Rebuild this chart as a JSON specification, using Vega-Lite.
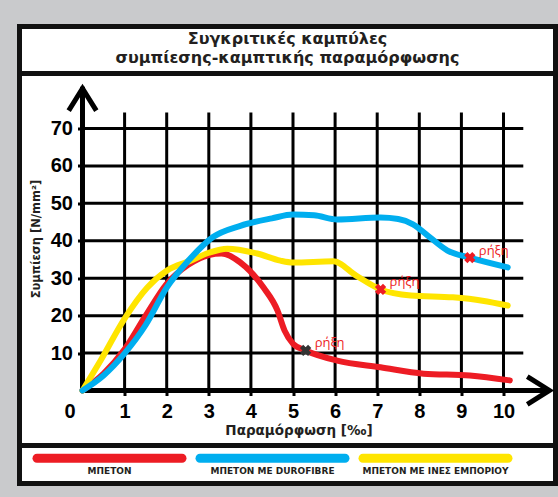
{
  "$schema": "https://vega.github.io/schema/vega-lite/v6.json",
  "background": "#c9cacc",
  "padding": {"left": 16.5, "top": 23.5, "right": 0, "bottom": 11.5},
  "spacing": 0,
  "bounds": "flush",
  "config": {"view": {"stroke": "#111111", "strokeWidth": 5, "fill": "white"}, "font": "DejaVu Sans"},
  "datasets": {
    "title": [{"line": "1", "text": "Συγκριτικές καμπύλες"}, {"line": "2", "text": "συμπίεσης-καμπτικής παραμόρφωσης"}],
    "gridx": [{"v": 1}, {"v": 2}, {"v": 3}, {"v": 4}, {"v": 5}, {"v": 6}, {"v": 7}, {"v": 8}, {"v": 9}, {"v": 10}],
    "gridy": [{"v": 10}, {"v": 20}, {"v": 30}, {"v": 40}, {"v": 50}, {"v": 60}, {"v": 70}],
    "curves": [
      {"series": "ΜΠΕΤΟΝ", "x": 0, "y": 0},
      {"series": "ΜΠΕΤΟΝ", "x": 0.5, "y": 4.5},
      {"series": "ΜΠΕΤΟΝ", "x": 1.0, "y": 11},
      {"series": "ΜΠΕΤΟΝ", "x": 1.5, "y": 20},
      {"series": "ΜΠΕΤΟΝ", "x": 2.0, "y": 28.5},
      {"series": "ΜΠΕΤΟΝ", "x": 2.5, "y": 33.5},
      {"series": "ΜΠΕΤΟΝ", "x": 3.0, "y": 36.2},
      {"series": "ΜΠΕΤΟΝ", "x": 3.3, "y": 36.6},
      {"series": "ΜΠΕΤΟΝ", "x": 3.75, "y": 34.2},
      {"series": "ΜΠΕΤΟΝ", "x": 4.3, "y": 27.5},
      {"series": "ΜΠΕΤΟΝ", "x": 4.63, "y": 21.4},
      {"series": "ΜΠΕΤΟΝ", "x": 4.8, "y": 16},
      {"series": "ΜΠΕΤΟΝ", "x": 5.0, "y": 12.5},
      {"series": "ΜΠΕΤΟΝ", "x": 5.3, "y": 10.7},
      {"series": "ΜΠΕΤΟΝ", "x": 6.05, "y": 8},
      {"series": "ΜΠΕΤΟΝ", "x": 7.08, "y": 6.2},
      {"series": "ΜΠΕΤΟΝ", "x": 8.1, "y": 4.5},
      {"series": "ΜΠΕΤΟΝ", "x": 9.2, "y": 4.0},
      {"series": "ΜΠΕΤΟΝ", "x": 10.15, "y": 2.7},
      {"series": "ΜΠΕΤΟΝ ΜΕ ΙΝΕΣ ΕΜΠΟΡΙΟΥ", "x": 0, "y": 0},
      {"series": "ΜΠΕΤΟΝ ΜΕ ΙΝΕΣ ΕΜΠΟΡΙΟΥ", "x": 0.43, "y": 8},
      {"series": "ΜΠΕΤΟΝ ΜΕ ΙΝΕΣ ΕΜΠΟΡΙΟΥ", "x": 1.0, "y": 19.2},
      {"series": "ΜΠΕΤΟΝ ΜΕ ΙΝΕΣ ΕΜΠΟΡΙΟΥ", "x": 1.54, "y": 27.5},
      {"series": "ΜΠΕΤΟΝ ΜΕ ΙΝΕΣ ΕΜΠΟΡΙΟΥ", "x": 2.0, "y": 32},
      {"series": "ΜΠΕΤΟΝ ΜΕ ΙΝΕΣ ΕΜΠΟΡΙΟΥ", "x": 2.57, "y": 34.7},
      {"series": "ΜΠΕΤΟΝ ΜΕ ΙΝΕΣ ΕΜΠΟΡΙΟΥ", "x": 3.0, "y": 36.8},
      {"series": "ΜΠΕΤΟΝ ΜΕ ΙΝΕΣ ΕΜΠΟΡΙΟΥ", "x": 3.44, "y": 37.9},
      {"series": "ΜΠΕΤΟΝ ΜΕ ΙΝΕΣ ΕΜΠΟΡΙΟΥ", "x": 4.15, "y": 36.6},
      {"series": "ΜΠΕΤΟΝ ΜΕ ΙΝΕΣ ΕΜΠΟΡΙΟΥ", "x": 4.7, "y": 34.7},
      {"series": "ΜΠΕΤΟΝ ΜΕ ΙΝΕΣ ΕΜΠΟΡΙΟΥ", "x": 5.0, "y": 34.2},
      {"series": "ΜΠΕΤΟΝ ΜΕ ΙΝΕΣ ΕΜΠΟΡΙΟΥ", "x": 5.96, "y": 34.5},
      {"series": "ΜΠΕΤΟΝ ΜΕ ΙΝΕΣ ΕΜΠΟΡΙΟΥ", "x": 6.5, "y": 30.7},
      {"series": "ΜΠΕΤΟΝ ΜΕ ΙΝΕΣ ΕΜΠΟΡΙΟΥ", "x": 7.08, "y": 27},
      {"series": "ΜΠΕΤΟΝ ΜΕ ΙΝΕΣ ΕΜΠΟΡΙΟΥ", "x": 7.8, "y": 25.4},
      {"series": "ΜΠΕΤΟΝ ΜΕ ΙΝΕΣ ΕΜΠΟΡΙΟΥ", "x": 8.8, "y": 24.9},
      {"series": "ΜΠΕΤΟΝ ΜΕ ΙΝΕΣ ΕΜΠΟΡΙΟΥ", "x": 9.5, "y": 24},
      {"series": "ΜΠΕΤΟΝ ΜΕ ΙΝΕΣ ΕΜΠΟΡΙΟΥ", "x": 10.1, "y": 22.7},
      {"series": "ΜΠΕΤΟΝ ΜΕ DUROFIBRE", "x": 0, "y": 0},
      {"series": "ΜΠΕΤΟΝ ΜΕ DUROFIBRE", "x": 0.5, "y": 4},
      {"series": "ΜΠΕΤΟΝ ΜΕ DUROFIBRE", "x": 1.0, "y": 9.9},
      {"series": "ΜΠΕΤΟΝ ΜΕ DUROFIBRE", "x": 1.5, "y": 17.5},
      {"series": "ΜΠΕΤΟΝ ΜΕ DUROFIBRE", "x": 2.0, "y": 27.5},
      {"series": "ΜΠΕΤΟΝ ΜΕ DUROFIBRE", "x": 2.5, "y": 34.5},
      {"series": "ΜΠΕΤΟΝ ΜΕ DUROFIBRE", "x": 3.1, "y": 41},
      {"series": "ΜΠΕΤΟΝ ΜΕ DUROFIBRE", "x": 3.75, "y": 44},
      {"series": "ΜΠΕΤΟΝ ΜΕ DUROFIBRE", "x": 4.5, "y": 46},
      {"series": "ΜΠΕΤΟΝ ΜΕ DUROFIBRE", "x": 5.0, "y": 47},
      {"series": "ΜΠΕΤΟΝ ΜΕ DUROFIBRE", "x": 5.5, "y": 46.8},
      {"series": "ΜΠΕΤΟΝ ΜΕ DUROFIBRE", "x": 6.05, "y": 45.7},
      {"series": "ΜΠΕΤΟΝ ΜΕ DUROFIBRE", "x": 7.08, "y": 46.2},
      {"series": "ΜΠΕΤΟΝ ΜΕ DUROFIBRE", "x": 7.5, "y": 45.8},
      {"series": "ΜΠΕΤΟΝ ΜΕ DUROFIBRE", "x": 7.85, "y": 44.4},
      {"series": "ΜΠΕΤΟΝ ΜΕ DUROFIBRE", "x": 8.2, "y": 41.4},
      {"series": "ΜΠΕΤΟΝ ΜΕ DUROFIBRE", "x": 8.67, "y": 37.4},
      {"series": "ΜΠΕΤΟΝ ΜΕ DUROFIBRE", "x": 9.2, "y": 35.5},
      {"series": "ΜΠΕΤΟΝ ΜΕ DUROFIBRE", "x": 10.1, "y": 32.9}
    ],
    "breaks": [
      {"series": "ΜΠΕΤΟΝ", "x": 5.3, "y": 10.7, "label": "ρήξη"},
      {"series": "ΜΠΕΤΟΝ ΜΕ ΙΝΕΣ ΕΜΠΟΡΙΟΥ", "x": 7.08, "y": 27, "label": "ρήξη"},
      {"series": "ΜΠΕΤΟΝ ΜΕ DUROFIBRE", "x": 9.2, "y": 35.5, "label": "ρήξη"}
    ],
    "legend": [
      {"series": "ΜΠΕΤΟΝ"},
      {"series": "ΜΠΕΤΟΝ ΜΕ DUROFIBRE"},
      {"series": "ΜΠΕΤΟΝ ΜΕ ΙΝΕΣ ΕΜΠΟΡΙΟΥ"}
    ]
  },
  "vconcat": [
    {
      "width": 536,
      "height": 47,
      "data": {"name": "title"},
      "mark": {"type": "text", "font": "DejaVu Sans", "fontWeight": "bold", "fontSize": 16, "color": "#231f20", "baseline": "middle", "dy": -1.5},
      "encoding": {
        "y": {"field": "line", "type": "nominal", "scale": {"type": "point", "padding": 0.737}, "axis": null},
        "text": {"field": "text"}
      }
    },
    {
      "width": 536,
      "height": 372,
      "layer": [
        {
          "data": {"name": "gridx"},
          "mark": {"type": "rule", "strokeWidth": 3, "color": "black"},
          "encoding": {
            "x": {"field": "v", "type": "quantitative",
              "scale": {"domain": [-1.4964, 11.235], "nice": false, "zero": false},
              "axis": {"values": [0, 1, 2, 3, 4, 5, 6, 7, 8, 9, 10], "title": "Παραμόρφωση [‰]", "offset": -55, "domain": false, "grid": false,
                "tickColor": "black", "tickWidth": 3, "tickSize": 5,
                "tickOpacity": {"condition": {"test": "datum.value === 0", "value": 0}, "value": 1},
                "labelFont": "Liberation Sans", "labelFontSize": 20, "labelFontWeight": "bold", "labelColor": "black", "labelPadding": 6,
                "labelOffset": {"condition": {"test": "datum.value === 0", "value": -13}, "value": 0},
                "labelFlush": false, "labelOverlap": false,
                "titleFont": "DejaVu Sans", "titleFontSize": 13.5, "titleFontWeight": "bold", "titleColor": "#231f20",
                "titleX": 279, "titleY": 40, "titleBaseline": "middle"}},
            "y": {"datum": 0, "type": "quantitative",
              "scale": {"domain": [-14.7, 84.7], "nice": false, "zero": false},
              "axis": {"values": [10, 20, 30, 40, 50, 60, 70], "title": "Συμπίεση [N/mm²]", "offset": -63, "domain": false, "grid": false,
                "tickColor": "black", "tickWidth": 3, "tickSize": 5,
                "labelFont": "Liberation Sans", "labelFontSize": 20, "labelFontWeight": "bold", "labelColor": "black", "labelPadding": 5,
                "titleFont": "DejaVu Sans", "titleFontSize": 11.5, "titleFontWeight": "bold", "titleColor": "#231f20",
                "titleX": -46, "titleY": 165, "titleBaseline": "middle", "titleAngle": -90}},
            "y2": {"datum": 74.3}
          }
        },
        {
          "data": {"name": "gridy"},
          "mark": {"type": "rule", "strokeWidth": 3, "color": "black"},
          "encoding": {
            "y": {"field": "v", "type": "quantitative"},
            "x": {"datum": 0, "type": "quantitative"},
            "x2": {"datum": 10.47}
          }
        },
        {
          "data": {"values": [{}]},
          "mark": {"type": "rule", "strokeWidth": 5, "color": "black", "strokeCap": "square"},
          "encoding": {
            "x": {"datum": 0, "type": "quantitative"},
            "y": {"datum": 0, "type": "quantitative"},
            "y2": {"datum": 80.5}
          }
        },
        {
          "data": {"values": [{}]},
          "mark": {"type": "rule", "strokeWidth": 5, "color": "black", "strokeCap": "square"},
          "encoding": {
            "y": {"datum": 0, "type": "quantitative"},
            "x": {"datum": 0, "type": "quantitative"},
            "x2": {"datum": 11.0}
          }
        },
        {
          "data": {"values": [{}]},
          "mark": {"type": "point", "shape": "M-1,1.6L0,0L1,1.6", "filled": false, "stroke": "black", "strokeWidth": 5, "size": 625, "opacity": 1, "strokeCap": "square"},
          "encoding": {
            "x": {"datum": 0, "type": "quantitative"},
            "y": {"datum": 80.7, "type": "quantitative"}
          }
        },
        {
          "data": {"values": [{}]},
          "mark": {"type": "point", "shape": "M-1.6,-1L0,0L-1.6,1", "filled": false, "stroke": "black", "strokeWidth": 5, "size": 625, "opacity": 1, "strokeCap": "square"},
          "encoding": {
            "x": {"datum": 11.09, "type": "quantitative"},
            "y": {"datum": 0, "type": "quantitative"}
          }
        },
        {
          "data": {"name": "curves"},
          "transform": [{"filter": "datum.series === 'ΜΠΕΤΟΝ'"}],
          "mark": {"type": "line", "strokeWidth": 6, "interpolate": "monotone", "strokeCap": "round"},
          "encoding": {
            "x": {"field": "x", "type": "quantitative"},
            "y": {"field": "y", "type": "quantitative"},
            "color": {"field": "series", "type": "nominal", "scale": {"domain": ["ΜΠΕΤΟΝ", "ΜΠΕΤΟΝ ΜΕ DUROFIBRE", "ΜΠΕΤΟΝ ΜΕ ΙΝΕΣ ΕΜΠΟΡΙΟΥ"], "range": ["#ed1c24", "#00aeef", "#ffe500"]}, "legend": null}
          }
        },
        {
          "data": {"name": "curves"},
          "transform": [{"filter": "datum.series === 'ΜΠΕΤΟΝ ΜΕ ΙΝΕΣ ΕΜΠΟΡΙΟΥ'"}],
          "mark": {"type": "line", "strokeWidth": 6, "interpolate": "monotone", "strokeCap": "round"},
          "encoding": {
            "x": {"field": "x", "type": "quantitative"},
            "y": {"field": "y", "type": "quantitative"},
            "color": {"field": "series", "type": "nominal", "legend": null}
          }
        },
        {
          "data": {"name": "curves"},
          "transform": [{"filter": "datum.series === 'ΜΠΕΤΟΝ ΜΕ DUROFIBRE'"}],
          "mark": {"type": "line", "strokeWidth": 6, "interpolate": "monotone", "strokeCap": "round"},
          "encoding": {
            "x": {"field": "x", "type": "quantitative"},
            "y": {"field": "y", "type": "quantitative"},
            "color": {"field": "series", "type": "nominal", "legend": null}
          }
        },
        {
          "data": {"name": "breaks"},
          "mark": {"type": "point", "shape": "cross", "angle": 45, "filled": true, "size": 130, "opacity": 1},
          "encoding": {
            "x": {"field": "x", "type": "quantitative"},
            "y": {"field": "y", "type": "quantitative"},
            "color": {"condition": {"test": "datum.series === 'ΜΠΕΤΟΝ'", "value": "#333333"}, "value": "#ed1c24"}
          }
        },
        {
          "data": {"name": "breaks"},
          "mark": {"type": "text", "align": "left", "baseline": "middle", "dx": 9, "dy": -7, "font": "Open Sans", "fontSize": 13, "color": "#ed1c24"},
          "encoding": {
            "x": {"field": "x", "type": "quantitative"},
            "y": {"field": "y", "type": "quantitative"},
            "text": {"field": "label"}
          }
        }
      ]
    },
    {
      "width": 536,
      "height": 38,
      "data": {"name": "legend"},
      "layer": [
        {
          "mark": {"type": "tick", "orient": "horizontal", "thickness": 9, "size": 154, "cornerRadius": 4.5, "opacity": 1},
          "encoding": {
            "x": {"field": "series", "type": "nominal", "sort": null,
              "scale": {"type": "band", "domain": ["ΜΠΕΤΟΝ", "ΜΠΕΤΟΝ ΜΕ DUROFIBRE", "ΜΠΕΤΟΝ ΜΕ ΙΝΕΣ ΕΜΠΟΡΙΟΥ"], "range": [8.5, 497.5], "paddingInner": 0, "paddingOuter": 0}, "axis": null},
            "y": {"datum": "bar", "type": "nominal", "scale": {"type": "point", "domain": ["bar", "label"], "padding": 1.083}, "axis": null},
            "color": {"field": "series", "type": "nominal", "legend": null}
          }
        },
        {
          "mark": {"type": "text", "font": "DejaVu Sans", "fontWeight": "bold", "fontSize": 9, "color": "#231f20", "baseline": "middle"},
          "encoding": {
            "x": {"field": "series", "type": "nominal", "axis": null},
            "y": {"datum": "label", "type": "nominal", "axis": null},
            "text": {"field": "series"}
          }
        }
      ]
    }
  ]
}
